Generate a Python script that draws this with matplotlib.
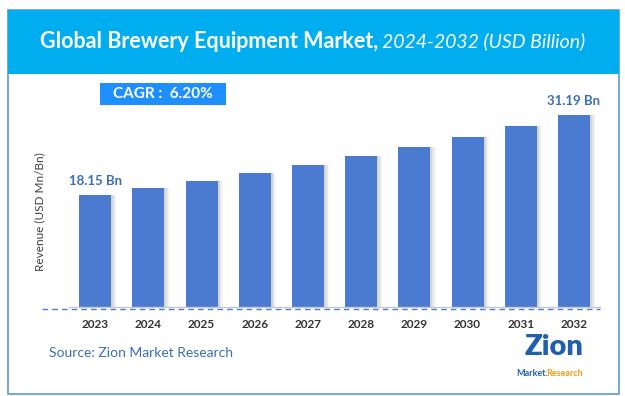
import numpy as np
import matplotlib.pyplot as plt
from matplotlib.patches import Rectangle

plt.rcParams['font.family'] = ['Lato', 'DejaVu Sans']

years = ['2023', '2024', '2025', '2026', '2027', '2028', '2029', '2030', '2031', '2032']
revenue = [18.15, 19.28, 20.47, 21.74, 23.09, 24.52, 26.04, 27.65, 29.37, 31.19]
first_label = '18.15 Bn'
last_label = '31.19 Bn'

W, H = 625, 396
fig = plt.figure(figsize=(W / 100, H / 100), dpi=100)

def fx(px):
    return px / W

def fy(py):
    return 1 - py / H

# outer frame and header band
fig.patches.append(Rectangle((fx(8), fy(394)), fx(611), (394 - 10) / H, transform=fig.transFigure,
                             facecolor='white', edgecolor='#5B9BD5', lw=1.2, zorder=-3))
fig.patches.append(Rectangle((fx(8), fy(74)), fx(611), 64 / H, transform=fig.transFigure,
                             facecolor='#00AEEF', edgecolor='none', zorder=-2))
t1 = fig.text(fx(40), fy(41), 'Global Brewery Equipment Market,', color='white', fontsize=15.5,
              fontweight='bold', va='center', ha='left')
fig.canvas.draw()
bb = t1.get_window_extent()
fig.text(bb.x1 / W + 0.006, fy(41), '2024-2032 (USD Billion)', color='white', fontsize=14,
         style='italic', va='center', ha='left')

# CAGR box
fig.patches.append(Rectangle((fx(100), fy(105)), fx(126), 22 / H, transform=fig.transFigure,
                             facecolor='#1E8FFF', edgecolor='none', zorder=-1))
fig.text(fx(163), fy(94.5), 'CAGR :  6.20%', color='white', fontsize=11, fontweight='bold',
         ha='center', va='center')

# chart area
ax = fig.add_axes([fx(42), fy(307), fx(600 - 42), (307 - 80) / H])
ax.set_xlim(-1.0, 9.49)
ax.set_ylim(0, 36.85)
ax.axis('off')

x = np.arange(len(years))
for k, a in enumerate([0.08, 0.12, 0.16]):
    off = 0.04 + 0.03 * (2 - k)
    ax.bar(x + off, revenue, width=0.6, color='#808080', alpha=a, zorder=1)
ax.bar(x, revenue, width=0.6, color='#4A7BD1', zorder=3)

ax.plot([-0.5, 9.49], [0, 0], color='#C8C8C8', lw=1, zorder=4, clip_on=False)
ax.axhline(-0.33, color='#4A7BD1', lw=1, ls=(0, (4, 3)), zorder=4, clip_on=False)

ax.text(x[0], revenue[0] + 1.3, first_label, color='#3A6FB5', fontsize=9.5, fontweight='bold',
        ha='center', va='bottom')
ax.text(x[-1], revenue[-1] + 1.3, last_label, color='#3A6FB5', fontsize=9.5, fontweight='bold',
        ha='center', va='bottom')
for xi, yr in zip(x, years):
    ax.text(xi, -1.9, yr, color='#333333', fontsize=8.5, fontweight='bold', ha='center', va='top')

fig.text(fx(40), fy(212), 'Revenue (USD Mn/Bn)', rotation=90, color='#404040', fontsize=8.5,
         ha='center', va='center')

# footer
fig.text(fx(49), fy(353), 'Source: Zion Market Research', color='#3A6FB5', fontsize=10,
         ha='left', va='center')
fig.text(fx(554), fy(347), 'Zion', color='#1F5FAF', fontsize=21, fontweight='heavy',
         ha='center', va='center')
fig.text(fx(548), fy(373), 'Market.', color='#1F5FAF', fontsize=6.5, fontweight='bold',
         ha='right', va='center')
fig.text(fx(546.5), fy(373), 'Research', color='#F39C12', fontsize=6.5, fontweight='bold',
         ha='left', va='center')

fig.savefig('out.png', dpi=100)
